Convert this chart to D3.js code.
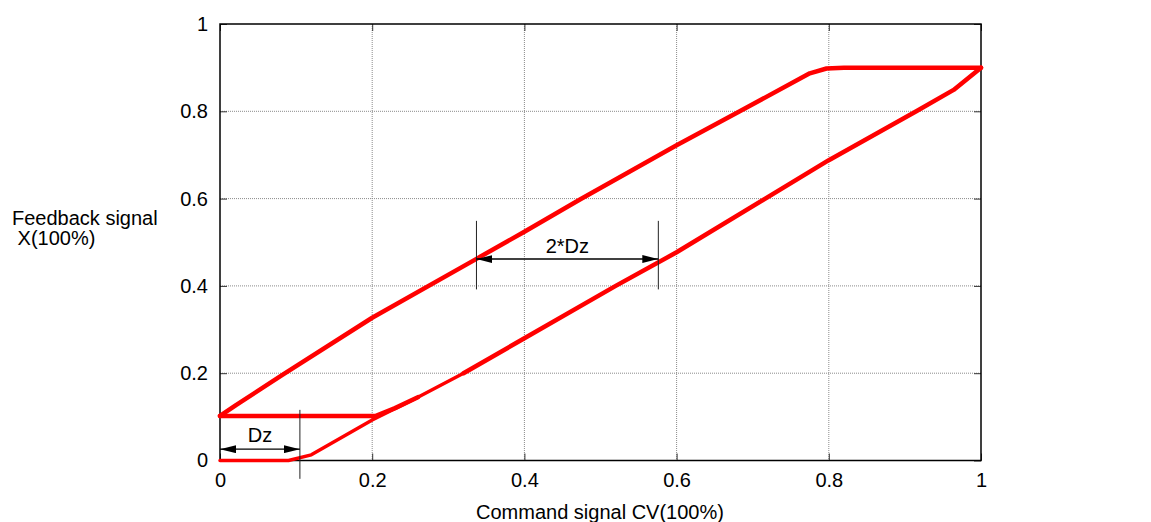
<!DOCTYPE html>
<html>
<head>
<meta charset="utf-8">
<script src="https://cdn.jsdelivr.net/npm/d3@7"></script>
<style>
  html, body { margin: 0; padding: 0; background: #fff; }
  svg { display: block; font-family: "Liberation Sans", Arial, sans-serif; }
</style>
</head>
<body>
<svg id="chart" width="1151" height="522"></svg>
<script>
// ---- data ----
const xTicks = [0, 0.2, 0.4, 0.6, 0.8, 1];
const yTicks = [0, 0.2, 0.4, 0.6, 0.8, 1];
const xTickLabels = ["0", "0.2", "0.4", "0.6", "0.8", "1"];
const yTickLabels = ["0", "0.2", "0.4", "0.6", "0.8", "1"];

// first rise from rest (0,0) through dead zone
const firstRiseX = [0, 0.09, 0.12, 0.2, 0.26, 0.32];
const firstRiseY = [0, 0, 0.013, 0.093, 0.145, 0.2];
// lower (increasing) branch
const lowerX = [0.32, 0.4, 0.52, 0.6, 0.8, 0.915, 0.964, 1];
const lowerY = [0.2, 0.28, 0.4, 0.477, 0.688, 0.8, 0.849, 0.9];
// upper (decreasing) branch
const upperX = [1, 0.82, 0.797, 0.775, 0.683, 0.6, 0.473, 0.4, 0.337, 0.2, 0.082, 0.021, 0];
const upperY = [0.9, 0.9, 0.898, 0.887, 0.8, 0.722, 0.598, 0.524, 0.462, 0.327, 0.196, 0.127, 0.102];
// second rise from 0.1 level
const secondRiseX = [0, 0.204, 0.23, 0.26];
const secondRiseY = [0.102, 0.102, 0.12, 0.145];

// dimension annotations
const dzValue = 0.105;
const dzArrowY = 0.026;
const dzTickY = [-0.042, 0.116];
const twoDzX = [0.337, 0.576];
const twoDzArrowY = 0.4616;
const twoDzTickY = [0.392, 0.549];

const xTitle = "Command signal CV(100%)";
const yTitle = ["Feedback signal", " X(100%)"];

// ---- layout ----
const mLeft = 220, mTop = 24, W = 761, H = 436.5;
const x = d3.scaleLinear().domain([0, 1]).range([mLeft, mLeft + W]);
const y = d3.scaleLinear().domain([0, 1]).range([mTop + H, mTop]);

const svg = d3.select("#chart");

// grid
const grid = svg.append("g");
grid.selectAll(".gx").data(xTicks.slice(1, -1)).enter().append("line")
  .attr("x1", d => x(d)).attr("x2", d => x(d))
  .attr("y1", mTop).attr("y2", mTop + H)
  .attr("stroke", "#8a8a8a").attr("stroke-width", 1).attr("stroke-dasharray", "1,1");
grid.selectAll(".gy").data(yTicks.slice(1, -1)).enter().append("line")
  .attr("y1", d => y(d)).attr("y2", d => y(d))
  .attr("x1", mLeft).attr("x2", mLeft + W)
  .attr("stroke", "#8a8a8a").attr("stroke-width", 1).attr("stroke-dasharray", "1,1");

// axes with inside ticks
const tickLen = 7;
const axB = svg.append("g").attr("transform", `translate(0,${mTop + H})`)
  .call(d3.axisBottom(x).tickValues(xTicks).tickFormat((d, i) => xTickLabels[i]).tickSize(-tickLen).tickPadding(12));
const axT = svg.append("g").attr("transform", `translate(0,${mTop})`)
  .call(d3.axisTop(x).tickValues(xTicks).tickFormat("").tickSize(-tickLen));
const axL = svg.append("g").attr("transform", `translate(${mLeft},0)`)
  .call(d3.axisLeft(y).tickValues(yTicks).tickFormat((d, i) => yTickLabels[i]).tickSize(-tickLen).tickPadding(12));
const axR = svg.append("g").attr("transform", `translate(${mLeft + W},0)`)
  .call(d3.axisRight(y).tickValues(yTicks).tickFormat("").tickSize(-tickLen));
[axB, axT, axL, axR].forEach(g => {
  g.select(".domain").remove();
  g.selectAll(".tick line").attr("stroke", "#333").attr("stroke-width", 1);
  g.selectAll("text").attr("font-size", 20).attr("fill", "#000")
    .attr("font-family", "'Liberation Sans', Arial, sans-serif");
});

// frame
svg.append("rect").attr("x", mLeft).attr("y", mTop).attr("width", W).attr("height", H)
  .attr("fill", "none").attr("stroke", "#000").attr("stroke-width", 1.5);

// curves
const line = d3.line().x(d => x(d[0])).y(d => y(d[1]));
function drawSeries(xs, ys, w) {
  svg.append("path").datum(xs.map((v, i) => [v, ys[i]]))
    .attr("d", line).attr("fill", "none").attr("stroke", "#ff0000")
    .attr("stroke-width", w).attr("stroke-linejoin", "round").attr("stroke-linecap", "round");
}
drawSeries(firstRiseX, firstRiseY, 3.5);
drawSeries(lowerX, lowerY, 4.5);
drawSeries(upperX, upperY, 4.5);
drawSeries(secondRiseX, secondRiseY, 4.5);

// arrow markers
const defs = svg.append("defs");
function marker(id, orient) {
  defs.append("marker").attr("id", id).attr("viewBox", "0 0 16 8")
    .attr("refX", 16).attr("refY", 4).attr("markerWidth", 16).attr("markerHeight", 8)
    .attr("markerUnits", "userSpaceOnUse").attr("orient", orient)
    .append("path").attr("d", "M0,0 L16,4 L0,8 Z").attr("fill", "#000");
}
marker("arrEnd", "auto");
marker("arrStart", "auto-start-reverse");

const ann = svg.append("g");
function dimension(x0, x1, arrowY, tickXs, tickYs, label, labelOffset) {
  tickXs.forEach(tx => {
    ann.append("line").attr("x1", x(tx)).attr("x2", x(tx))
      .attr("y1", y(tickYs[0])).attr("y2", y(tickYs[1]))
      .attr("stroke", "#222").attr("stroke-width", 1);
  });
  ann.append("line").attr("x1", x(x0)).attr("x2", x(x1))
    .attr("y1", y(arrowY)).attr("y2", y(arrowY))
    .attr("stroke", "#000").attr("stroke-width", 1.3)
    .attr("marker-start", "url(#arrStart)").attr("marker-end", "url(#arrEnd)");
  ann.append("text").attr("x", (x(x0) + x(x1)) / 2).attr("y", y(arrowY) - labelOffset)
    .attr("text-anchor", "middle").attr("font-size", 20).attr("fill", "#000").text(label);
}
dimension(0, dzValue, dzArrowY, [dzValue], dzTickY, "Dz", 7);
dimension(twoDzX[0], twoDzX[1], twoDzArrowY, twoDzX, twoDzTickY, "2*Dz", 6.5);

// titles
svg.append("text").attr("x", (mLeft + mLeft + W) / 2 - 0.5).attr("y", 519)
  .attr("text-anchor", "middle").attr("font-size", 20).attr("fill", "#000").text(xTitle);
const yt = svg.append("text").attr("x", 12).attr("y", 225).attr("font-size", 20).attr("fill", "#000")
  .attr("xml:space", "preserve").style("white-space", "pre");
yt.append("tspan").attr("x", 12).attr("y", 225).text(yTitle[0]);
yt.append("tspan").attr("x", 12).attr("y", 245).text(yTitle[1]);
</script>
</body>
</html>
